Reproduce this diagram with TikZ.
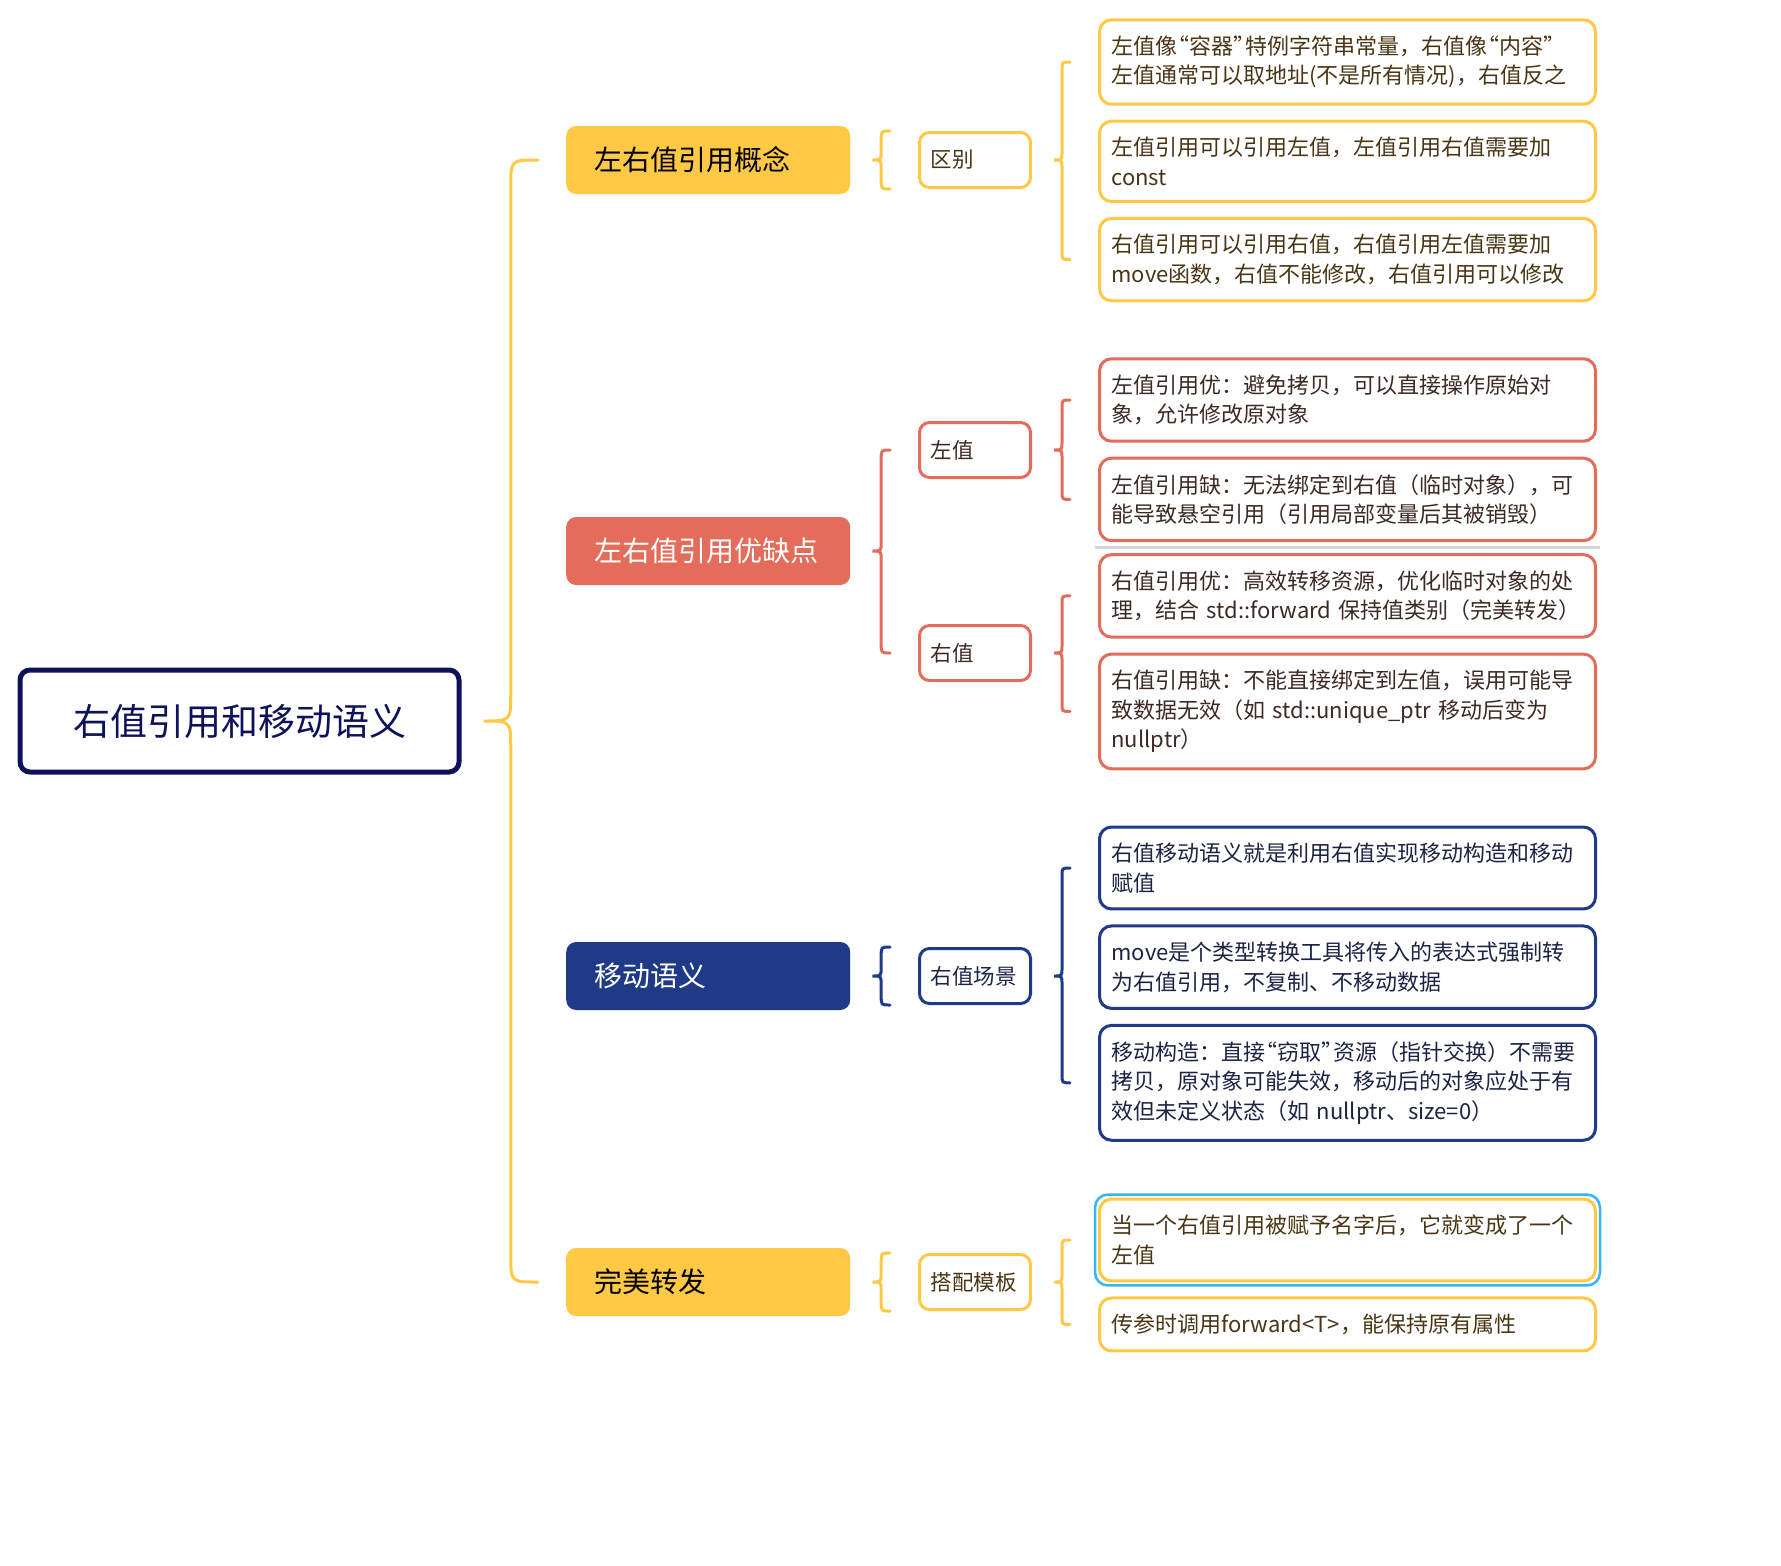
\documentclass[tikz,border=0pt]{standalone}
\usepackage{fontspec}
\setmainfont{Noto Sans CJK SC}
\definecolor{mindyellow}{HTML}{FFC845}
\definecolor{mindcoral}{HTML}{E36C5A}
\definecolor{mindnavy}{HTML}{1F3A87}
\definecolor{rootnavy}{HTML}{0E1259}
\definecolor{selblue}{HTML}{33B6F4}
\definecolor{inkbrown}{HTML}{4A3614}
\definecolor{inkred}{HTML}{3E2A24}
\definecolor{inkblue}{HTML}{1C2445}
\definecolor{dragline}{HTML}{D6D6D6}
\usetikzlibrary{positioning, calc, fit}

% quoted word with narrow quotes
\newcommand{\cq}[1]{\kern-.45em“#1”\kern-.45em}

% curly connector: parent, first child anchor, last child anchor, colour
\newcommand{\mmbrace}[4]{%
  \draw[#4, line width=3pt, line cap=round] let \p1=(#1.east), \p2=(#2), \p3=(#3),
    \n1={\x1+22pt}, \n2={\x2-28pt}, \n3={(\n1+\n2)/2}, \n4={(\n2-\n1)/2} in
    (\n2,\y2) .. controls (\n3,\y2) .. (\n3,\y2-\n4) -- (\n3,\y1+\n4)
    .. controls (\n3,\y1) .. (\n1,\y1) .. controls (\n3,\y1) .. (\n3,\y1-\n4)
    -- (\n3,\y3+\n4) .. controls (\n3,\y3) .. (\n2,\y3);
}

\begin{document}
\begin{tikzpicture}[x=1pt, y=-1pt]
    \tikzstyle{rootnode} = [draw=rootnavy, line width=5pt, fill=white, rounded corners=10pt, minimum width=439pt, minimum height=102pt, text=rootnavy, font=\fontsize{37}{40}\selectfont]
    \tikzstyle{topicnode} = [anchor=west, text width=228pt, inner xsep=28pt, minimum height=68pt, align=left, rounded corners=10pt, font=\fontsize{28}{32}\selectfont]
    \tikzstyle{subnode} = [anchor=west, draw, line width=3pt, fill=white, text width=89pt, inner xsep=11pt, minimum height=55pt, align=left, rounded corners=10pt, font=\fontsize{21.5}{26}\selectfont]
    \tikzstyle{leafnode} = [anchor=west, draw, line width=3pt, fill=white, text width=472pt, inner xsep=12pt, inner ysep=16pt, align=left, rounded corners=12pt, font=\fontsize{22}{29.5}\selectfont]

    \useasboundingbox (0,0) rectangle (1781,1566);

    \node [rootnode] (root) at (239.5,721) {右值引用和移动语义};

    \node [topicnode, fill=mindyellow, text=black] (concept) at (566,160) {左右值引用概念};
    \node [topicnode, fill=mindcoral, text=white] (prosCons) at (566,551) {左右值引用优缺点};
    \node [topicnode, fill=mindnavy, text=white] (moveSem) at (566,976) {移动语义};
    \node [topicnode, fill=mindyellow, text=black] (perfFwd) at (566,1282) {完美转发};

    \node [subnode, draw=mindyellow, text=inkbrown] (diff) at (918,160) {区别};
    \node [subnode, draw=mindcoral, text=inkred] (lval) at (918,450) {左值};
    \node [subnode, draw=mindcoral, text=inkred] (rval) at (918,653) {右值};
    \node [subnode, draw=mindnavy, text=inkblue] (rscene) at (918,976) {右值场景};
    \node [subnode, draw=mindyellow, text=inkbrown] (tmpl) at (918,1282) {搭配模板};

    % leaves
    \node [leafnode, draw=mindyellow, text=inkbrown] (l1) at (1098,62) {左值像\cq{容器}特例字符串常量，右值像\cq{内容}\\左值通常可以取地址(不是所有情况)，右值反之};
    \node [leafnode, draw=mindyellow, text=inkbrown, below=14pt of l1] (l2) {左值引用可以引用左值，左值引用右值需要加\\const};
    \node [leafnode, draw=mindyellow, text=inkbrown, below=14pt of l2] (l3) {右值引用可以引用右值，右值引用左值需要加\\move函数，右值不能修改，右值引用可以修改};

    \node [leafnode, draw=mindcoral, text=inkred] (l4) at (1098,400) {左值引用优：避免拷贝，可以直接操作原始对\\象，允许修改原对象};
    \node [leafnode, draw=mindcoral, text=inkred, below=14pt of l4] (l5) {左值引用缺：无法绑定到右值（临时对象），可\\能导致悬空引用（引用局部变量后其被销毁）};
    \node [leafnode, draw=mindcoral, text=inkred, below=11pt of l5] (l6) {右值引用优：高效转移资源，优化临时对象的处\\理，结合~std::forward~保持值类别（完美转发）};
    \node [leafnode, draw=mindcoral, text=inkred, below=14pt of l6] (l7) {右值引用缺：不能直接绑定到左值，误用可能导\\致数据无效（如~std::unique\_ptr~移动后变为\\nullptr）};

    \node [leafnode, draw=mindnavy, text=inkblue] (l8) at (1098,868) {右值移动语义就是利用右值实现移动构造和移动\\赋值};
    \node [leafnode, draw=mindnavy, text=inkblue, below=14pt of l8] (l9) {move是个类型转换工具将传入的表达式强制转\\为右值引用，不复制、不移动数据};
    \node [leafnode, draw=mindnavy, text=inkblue, below=14pt of l9] (l10) {移动构造：直接\cq{窃取}资源（指针交换）不需要\\拷贝，原对象可能失效，移动后的对象应处于有\\效但未定义状态（如~nullptr、size=0）};

    \node [leafnode, draw=mindyellow, text=inkbrown] (l11) at (1098,1240) {当一个右值引用被赋予名字后，它就变成了一个\\左值};
    \node [leafnode, draw=mindyellow, text=inkbrown, below=14pt of l11] (l12) {传参时调用forward<T>，能保持原有属性};
    \node [draw=selblue, line width=2.5pt, rounded corners=13pt, inner sep=3pt, fit=(l11)] (sel) {};

    \draw [dragline, line width=2.5pt] ($(l5.south west)!0.5!(l6.north west)+(-3,0)$) -- ($(l5.south east)!0.5!(l6.north east)+(3,0)$);

    % braces
    \mmbrace{root}{concept.west}{perfFwd.west}{mindyellow}
    \mmbrace{concept}{diff.north west}{diff.south west}{mindyellow}
    \mmbrace{prosCons}{lval.west}{rval.west}{mindcoral}
    \mmbrace{moveSem}{rscene.north west}{rscene.south west}{mindnavy}
    \mmbrace{perfFwd}{tmpl.north west}{tmpl.south west}{mindyellow}
    \mmbrace{diff}{l1.west}{l3.west}{mindyellow}
    \mmbrace{lval}{l4.west}{l5.west}{mindcoral}
    \mmbrace{rval}{l6.west}{l7.west}{mindcoral}
    \mmbrace{rscene}{l8.west}{l10.west}{mindnavy}
    \mmbrace{tmpl}{l11.west}{l12.west}{mindyellow}
\end{tikzpicture}
\end{document}
